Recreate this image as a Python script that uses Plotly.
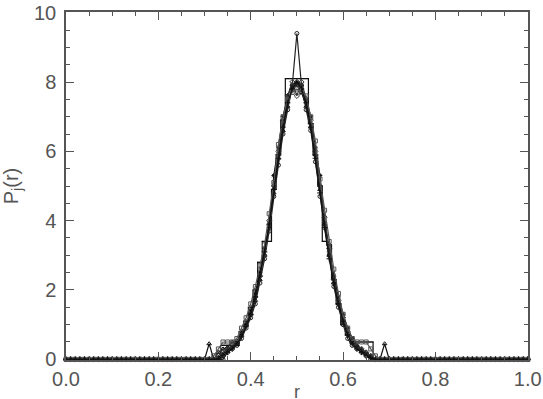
import plotly.graph_objects as go

# bin centres r = 0.00 .. 1.00 (step 0.01)
r_bins = [round(i * 0.01, 2) for i in range(101)]

# values for r = 0.30 .. 0.70 (41 bins); outside this window all series are 0
s_tri = [0, 0.45, 0, 0.2, 0.3, 0.35, 0.5, 0.5, 0.8, 1.0, 1.3, 1.7, 2.3, 3.0, 3.9, 4.8, 5.8, 6.6, 7.3, 7.8,
         7.9, 7.7, 7.3, 6.7, 5.9, 4.9, 3.9, 3.0, 2.2, 1.6, 1.1, 0.8, 0.5, 0.4, 0.3, 0.2, 0.1, 0, 0, 0.45, 0]
s_star = [0, 0, 0, 0.05, 0.15, 0.25, 0.35, 0.5, 0.7, 1.0, 1.4, 1.9, 2.5, 3.2, 3.8, 5.3, 6.1, 7.0, 7.6, 7.9,
          8.0, 7.9, 7.5, 7.0, 6.1, 5.3, 3.9, 3.1, 2.4, 1.8, 1.3, 0.9, 0.6, 0.4, 0.25, 0.15, 0.05, 0, 0, 0, 0]
s_step = [0, 0, 0, 0, 0.4, 0.4, 0.4, 0.4, 0.8, 1.1, 1.5, 2.0, 2.8, 3.4, 3.4, 4.9, 5.9, 6.9, 8.1, 8.1,
          8.1, 8.1, 8.1, 6.8, 5.9, 5.0, 3.4, 3.3, 2.3, 1.6, 1.0, 0.7, 0.5, 0.5, 0.5, 0.5, 0.5, 0, 0, 0, 0]
s_spike = [0, 0, 0, 0, 0, 0.2, 0.3, 0.4, 0.6, 0.9, 1.2, 1.6, 2.2, 2.9, 3.7, 4.7, 5.6, 6.5, 7.2, 7.9,
           9.4, 7.9, 7.2, 6.6, 5.7, 4.7, 3.8, 3.0, 2.1, 1.5, 1.0, 0.6, 0.4, 0.3, 0.2, 0.1, 0, 0, 0, 0, 0]
s_dia = [0, 0, 0, 0.1, 0.2, 0.3, 0.4, 0.5, 0.7, 1.0, 1.3, 1.8, 2.4, 3.0, 4.0, 5.0, 6.0, 6.9, 7.6, 8.0,
         7.6, 8.0, 7.5, 6.9, 6.0, 5.0, 4.1, 3.2, 2.3, 1.7, 1.2, 0.8, 0.5, 0.35, 0.3, 0.2, 0.1, 0, 0, 0, 0]
s_sq = [0, 0, 0.1, 0.3, 0.5, 0.5, 0.5, 0.6, 0.9, 1.2, 1.6, 2.1, 2.7, 3.3, 4.2, 5.1, 6.2, 7.0, 7.5, 7.7,
        7.8, 7.7, 7.6, 7.0, 6.3, 5.2, 4.3, 3.4, 2.6, 1.9, 1.3, 0.9, 0.6, 0.5, 0.5, 0.5, 0.3, 0.1, 0, 0, 0]
s_plus = [0, 0, 0, 0, 0.1, 0.2, 0.3, 0.45, 0.65, 0.95, 1.3, 1.8, 2.4, 3.1, 3.9, 4.9, 5.8, 6.7, 7.4, 7.8,
          8.0, 7.8, 7.4, 6.7, 5.8, 4.8, 3.8, 2.9, 2.2, 1.6, 1.1, 0.7, 0.45, 0.3, 0.2, 0.1, 0.05, 0, 0, 0, 0]

x_tick_vals = [0.0, 0.2, 0.4, 0.6, 0.8, 1.0]
x_tick_text = ["0.0", "0.2", "0.4", "0.6", "0.8", "1.0"]
y_tick_vals = [0, 2, 4, 6, 8, 10]
y_tick_text = ["0", "2", "4", "6", "8", "10"]

pad_left = [0.0] * 30
pad_right = [0.0] * 30

series = [
    ("tri", s_tri, "triangle-up-open", "#111", "linear"),
    ("star", s_star, "asterisk-open", "#000", "linear"),
    ("step", s_step, "line-ew-open", "#111", "hvh"),
    ("spike", s_spike, "circle-open", "#222", "linear"),
    ("dia", s_dia, "diamond-open", "#333", "linear"),
    ("sq", s_sq, "square-open", "#555", "linear"),
    ("plus", s_plus, "cross-thin-open", "#111", "linear"),
]

fig = go.Figure()
for name, core, sym, col, shape in series:
    y = pad_left + core + pad_right
    fig.add_trace(go.Scatter(
        x=r_bins, y=y, mode="lines+markers", name=name, line_shape=shape,
        line=dict(color=col, width=1.2),
        marker=dict(symbol=sym, size=4, color=col, line=dict(width=1, color=col)),
        showlegend=False, cliponaxis=False,
    ))

FONT = "Liberation Sans, Arial, sans-serif"
axis_common = dict(
    showgrid=False, zeroline=False, showline=True, linecolor="#555", linewidth=1.5,
    mirror="allticks", ticks="inside", ticklen=8, tickwidth=1, tickcolor="#555",
    tickfont=dict(family=FONT, size=20, color="#555"), automargin=False,
    ticklabeloverflow="allow",
)

fig.update_layout(
    width=543, height=399,
    margin=dict(l=66, r=15, t=12, b=39),
    paper_bgcolor="white", plot_bgcolor="white",
    xaxis=dict(range=[0, 1.0005], tickmode="array", tickvals=x_tick_vals, ticktext=x_tick_text,
               ticklabelstandoff=0,
               minor=dict(ticks="inside", dtick=0.05, ticklen=4, tickcolor="#555"),
               **axis_common),
    yaxis=dict(range=[-0.02, 10.02], tickmode="array", tickvals=y_tick_vals, ticktext=y_tick_text,
               ticklabelstandoff=4,
               minor=dict(ticks="inside", dtick=0.5, ticklen=4, tickcolor="#555"),
               title=dict(text="P<sub>j</sub>(r)", font=dict(family=FONT, size=20, color="#555"),
                          standoff=16),
               **axis_common),
    annotations=[dict(text="r", x=0.5, xref="paper", y=-0.093, yref="paper",
                      yanchor="middle", showarrow=False,
                      font=dict(family=FONT, size=18, color="#555"))],
)

fig.write_html("out.html")
